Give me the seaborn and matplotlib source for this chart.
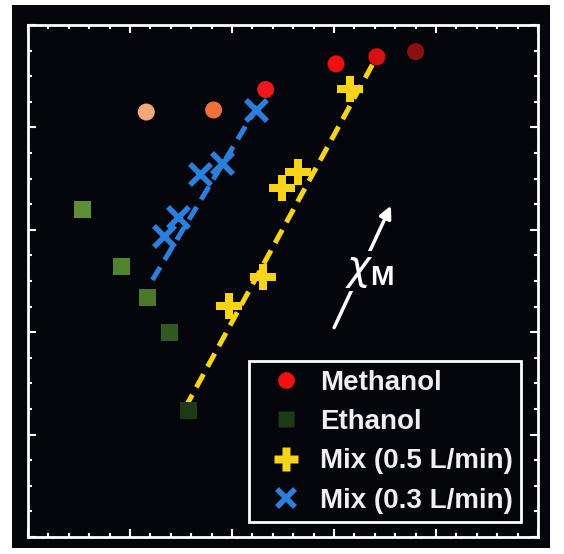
import numpy as np
import pandas as pd
import seaborn as sns
import matplotlib.pyplot as plt
from matplotlib.lines import Line2D
from matplotlib.patches import Rectangle
from matplotlib.ticker import MultipleLocator

# Data (arbitrary units, axes run 0..5)
methanol_x = [1.16, 1.82, 2.33, 3.02, 3.42, 3.80]
methanol_y = [4.15, 4.17, 4.37, 4.62, 4.69, 4.74]
methanol_colors = ['#f3a77a', '#f0703a', '#f01818', '#f01010', '#d81010', '#8c1010']

ethanol_x = [0.53, 0.92, 1.17, 1.39, 1.57]
ethanol_y = [3.20, 2.64, 2.34, 2.00, 1.24]
ethanol_colors = ['#5f8f35', '#4f862c', '#4a7a28', '#2f5a20', '#1c3a16']

mix05_x = [1.97, 2.30, 2.49, 2.65, 3.16]
mix05_y = [2.26, 2.54, 3.41, 3.56, 4.37]

mix03_x = [1.33, 1.47, 1.69, 1.90, 2.24]
mix03_y = [2.94, 3.12, 3.54, 3.65, 4.17]

fit05_x = [1.54, 3.43]
fit05_y = [1.26, 4.71]
fit03_x = [1.22, 2.29]
fit03_y = [2.51, 4.27]

labels = ['Methanol', 'Ethanol', 'Mix (0.5 L/min)', 'Mix (0.3 L/min)']

yellow = '#f7d417'
blue = '#2a80dc'

sns.set_style('dark')
plt.rcParams['font.family'] = ['Liberation Sans', 'DejaVu Sans']
plt.rcParams['mathtext.fontset'] = 'custom'
plt.rcParams['mathtext.bf'] = 'Liberation Sans:bold'

fig = plt.figure(figsize=(5.64, 5.54), dpi=100)
fig.patch.set_facecolor('white')
fig.patches.append(Rectangle((0.021, 0.011), 0.954, 0.980, transform=fig.transFigure,
                             facecolor='#05050c', edgecolor='none', zorder=-5))
ax = fig.add_axes([0.0496, 0.0307, 0.9043, 0.9242])
ax.set_facecolor('#05050c')

# fitted dashed lines
sns.lineplot(x=fit05_x, y=fit05_y, ax=ax, color=yellow, lw=3.6, zorder=2)
sns.lineplot(x=fit03_x, y=fit03_y, ax=ax, color=blue, lw=3.6, zorder=2)
for ln in ax.get_lines():
    ln.set_dashes([3, 1.7])

met = pd.DataFrame({'x': methanol_x, 'y': methanol_y, 'k': range(len(methanol_x))})
eth = pd.DataFrame({'x': ethanol_x, 'y': ethanol_y, 'k': range(len(ethanol_x))})
sns.scatterplot(data=met, x='x', y='y', hue='k', palette=methanol_colors, s=150,
                marker='o', linewidth=0, legend=False, ax=ax, zorder=3)
sns.scatterplot(data=eth, x='x', y='y', hue='k', palette=ethanol_colors, s=150,
                marker='s', linewidth=0, legend=False, ax=ax, zorder=3)
sns.scatterplot(x=mix05_x, y=mix05_y, color=yellow, s=350, marker='P', linewidth=0,
                ax=ax, zorder=4)
sns.scatterplot(x=mix03_x, y=mix03_y, color=blue, s=230, marker='x', linewidth=4,
                ax=ax, zorder=4)

# chi_M arrow
ax.annotate('', xy=(3.57, 3.26), xytext=(2.99, 2.02),
            arrowprops=dict(arrowstyle='-|>', color='white', lw=2.5, mutation_scale=18))
ax.text(3.35, 2.60, r'$\chi_{\mathbf{M}}$', color='white', fontsize=29,
        ha='center', va='center',
        bbox=dict(facecolor='#05050c', edgecolor='none', pad=1))

ax.set_xlim(0, 5)
ax.set_ylim(0, 5)
ax.set_xlabel('')
ax.set_ylabel('')
ax.xaxis.set_major_locator(MultipleLocator(1))
ax.xaxis.set_minor_locator(MultipleLocator(0.2))
ax.yaxis.set_major_locator(MultipleLocator(1))
ax.yaxis.set_minor_locator(MultipleLocator(0.25))
ax.tick_params(which='both', direction='in', top=True, right=True, bottom=True, left=True,
               labelbottom=False, labelleft=False, color='white', width=1.5)
ax.tick_params(which='major', length=6)
ax.tick_params(which='minor', length=3)
ax.grid(False)
for sp in ax.spines.values():
    sp.set_visible(True)
    sp.set_color('white')
    sp.set_linewidth(2)

handles = [
    Line2D([], [], ls='none', marker='o', ms=12, mfc='#f01010', mec='none'),
    Line2D([], [], ls='none', marker='s', ms=12, mfc='#1c3a16', mec='none'),
    Line2D([], [], ls='none', marker='P', ms=17, mfc=yellow, mec='none'),
    Line2D([], [], ls='none', marker='x', ms=13, mew=4, color=blue),
]
leg = ax.legend(handles, labels, loc='lower left', bbox_to_anchor=(0.433, 0.029),
                borderaxespad=0, frameon=True, fancybox=False, facecolor='#05050c',
                edgecolor='white', framealpha=1, handlelength=2.1, handletextpad=0.15,
                labelspacing=0.48, borderpad=0.3,
                prop={'family': 'Liberation Sans', 'weight': 'bold', 'size': 20})
leg.get_frame().set_linewidth(2)
for t in leg.get_texts():
    t.set_color('#f0f0f0')

fig.savefig('out.png', dpi=100, facecolor=fig.get_facecolor())
